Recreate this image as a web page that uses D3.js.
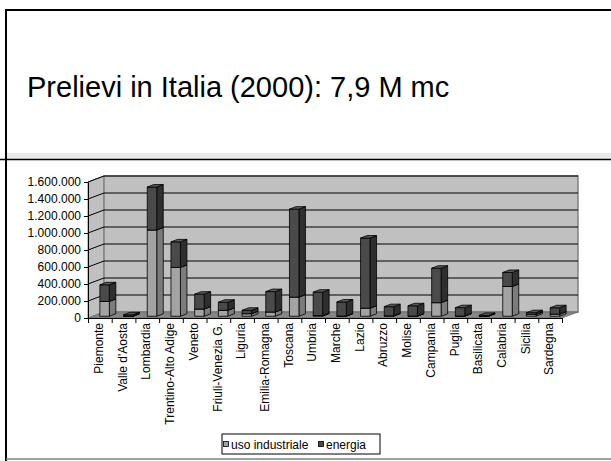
<!DOCTYPE html>
<html>
<head>
<meta charset="utf-8">
<script src="https://cdn.jsdelivr.net/npm/d3@7"></script>
<style>
  html, body { margin: 0; padding: 0; background: #fff; }
  svg { display: block; font-family: "Liberation Sans", Arial, sans-serif; }
</style>
</head>
<body>
<svg id="chart" width="611" height="461"></svg>
<script>
// Regional water withdrawals, Italy 2000 (m³)
const categories = ["Piemonte", "Valle d'Aosta", "Lombardia", "Trentino-Alto Adige", "Veneto",
  "Friuli-Venezia G.", "Liguria", "Emilia-Romagna", "Toscana", "Umbria", "Marche", "Lazio",
  "Abruzzo", "Molise", "Campania", "Puglia", "Basilicata", "Calabria", "Sicilia", "Sardegna"];
const usoIndustriale = [175000, 2000, 1015000, 575000, 85000, 70000, 30000, 50000, 225000, 8000,
  3000, 95000, 5000, 3000, 160000, 3000, 2000, 350000, 20000, 25000];
const energia = [195000, 15000, 505000, 300000, 175000, 95000, 40000, 240000, 1035000, 275000,
  165000, 825000, 108000, 120000, 405000, 98000, 8000, 165000, 22000, 75000];
const seriesNames = ["uso industriale", "energia"];
const yTicks = [0, 200000, 400000, 600000, 800000, 1000000, 1200000, 1400000, 1600000];
const titleText = "Prelievi in Italia (2000): 7,9 M mc";

const svg = d3.select("#chart");

// slide frame
svg.append("line").attr("x1", 6).attr("x2", 611).attr("y1", 10).attr("y2", 10)
  .attr("stroke", "#000").attr("stroke-width", 2);
svg.append("line").attr("x1", 6).attr("x2", 6).attr("y1", 9).attr("y2", 461)
  .attr("stroke", "#000").attr("stroke-width", 2);
svg.append("rect").attr("x", 7).attr("y", 153).attr("width", 604).attr("height", 6)
  .attr("fill", "#e8e8e8");
svg.append("line").attr("x1", 0).attr("x2", 611).attr("y1", 159.5).attr("y2", 159.5)
  .attr("stroke", "#000").attr("stroke-width", 1.5);
svg.append("line").attr("x1", 6).attr("x2", 611).attr("y1", 459).attr("y2", 459)
  .attr("stroke", "#808080").attr("stroke-width", 1.5);

svg.append("text").attr("x", 27).attr("y", 97)
  .attr("font-size", 29).attr("fill", "#000").text(titleText);

// plot geometry (front plane + depth offset)
const plotLeft = 88, plotRight = 562, plotBottom = 318, plotTop = 182;
const DX = 16, DY = -6;

const x = d3.scaleBand().domain(categories).range([plotLeft, plotRight]);
const xEdges = d3.scaleLinear().domain([0, categories.length]).range([plotLeft, plotRight]);
const y = d3.scaleLinear().domain([0, 1600000]).range([plotBottom, plotTop]);

const it = d3.formatLocale({ decimal: ",", thousands: ".", grouping: [3], currency: ["€", ""] });
const fmt = it.format(",");

const wall = svg.append("g");
// side wall
wall.append("polygon")
  .attr("points", [[plotLeft, plotBottom], [plotLeft, plotTop], [plotLeft + DX, plotTop + DY], [plotLeft + DX, plotBottom + DY]].join(" "))
  .attr("fill", "#c0c0c0").attr("stroke", "#808080");
// back wall
wall.append("rect")
  .attr("x", plotLeft + DX).attr("y", plotTop + DY)
  .attr("width", plotRight - plotLeft).attr("height", plotBottom - plotTop)
  .attr("fill", "#c0c0c0").attr("stroke", "#808080").attr("stroke-width", 1.5);
// gridlines on back and side walls
yTicks.filter(d => d > 0).forEach(v => {
  wall.append("line").attr("x1", plotLeft + DX).attr("x2", plotRight + DX)
    .attr("y1", y(v) + DY).attr("y2", y(v) + DY).attr("stroke", "#000").attr("stroke-width", 1);
  wall.append("line").attr("x1", plotLeft).attr("x2", plotLeft + DX)
    .attr("y1", y(v)).attr("y2", y(v) + DY).attr("stroke", "#000").attr("stroke-width", 1);
});
// floor
wall.append("polygon")
  .attr("points", [[plotLeft, plotBottom], [plotRight, plotBottom], [plotRight + DX, plotBottom + DY], [plotLeft + DX, plotBottom + DY]].join(" "))
  .attr("fill", "#868686").attr("stroke", "#6a6a6a").attr("stroke-width", 0.8);

// stacked 3D columns
const stack = d3.stack().keys([0, 1]).value((d, k) => d[k]);
const rows = categories.map((c, i) => [usoIndustriale[i], energia[i]]);
const layers = stack(rows);

const bw = x.bandwidth() * 0.4;
const bdx = 6.5, bdy = -2.5;               // column depth
const ox = (DX - bdx) / 2, oy = (DY - bdy) / 2; // column set at mid depth
const fills = [
  { front: "#a3a3a3", side: "#7c7c7c", top: "#bdbdbd" },
  { front: "#4a4a4a", side: "#2f2f2f", top: "#5a5a5a" }
];

const bars = svg.append("g").attr("stroke", "#000").attr("stroke-width", 0.8).attr("stroke-linejoin", "round");
categories.forEach((c, i) => {
  const x0 = x(c) + x.bandwidth() / 2 - bw / 2 + ox;
  const x1 = x0 + bw;
  layers.forEach((layer, k) => {
    const [v0, v1] = layer[i];
    if (v1 <= v0) return;
    const yb = y(v0) + oy, yt = y(v1) + oy;
    const col = fills[k];
    bars.append("polygon")
      .attr("points", [[x1, yb], [x1 + bdx, yb + bdy], [x1 + bdx, yt + bdy], [x1, yt]].join(" "))
      .attr("fill", col.side);
    bars.append("rect").attr("x", x0).attr("y", yt).attr("width", bw).attr("height", yb - yt)
      .attr("fill", col.front);
    bars.append("polygon")
      .attr("points", [[x0, yt], [x1, yt], [x1 + bdx, yt + bdy], [x0 + bdx, yt + bdy]].join(" "))
      .attr("fill", col.top);
  });
});

// y axis
const yAxis = svg.append("g").attr("transform", `translate(${plotLeft},0)`)
  .call(d3.axisLeft(y).tickValues(yTicks).tickFormat(fmt).tickSize(4).tickSizeOuter(0).tickPadding(3));
yAxis.selectAll("text").attr("font-size", 12).attr("fill", "#000").attr("font-family", "Liberation Sans, Arial, sans-serif");
yAxis.selectAll("line,path").attr("stroke", "#000");

// x axis: boundary ticks + rotated category labels
const xTicks = svg.append("g").attr("transform", `translate(0,${plotBottom})`)
  .call(d3.axisBottom(xEdges).tickValues(d3.range(categories.length + 1)).tickFormat("").tickSize(5).tickSizeOuter(0));
xTicks.selectAll("line,path").attr("stroke", "#000");

const xLabels = svg.append("g").attr("transform", `translate(0,${plotBottom})`)
  .call(d3.axisBottom(x).tickSize(0));
xLabels.select(".domain").remove();
xLabels.selectAll("text")
  .attr("transform", "rotate(-90)")
  .attr("x", -5).attr("y", -1).attr("dy", "0.35em")
  .attr("text-anchor", "end")
  .attr("font-size", 12).attr("fill", "#000")
  .attr("font-family", "Liberation Sans, Arial, sans-serif");

// legend
const lg = svg.append("g");
lg.append("rect").attr("x", 222).attr("y", 434).attr("width", 158).attr("height", 20)
  .attr("fill", "#fff").attr("stroke", "#000").attr("stroke-width", 1);
const legendX = [223, 318];
seriesNames.forEach((name, k) => {
  lg.append("rect").attr("x", legendX[k] + 0.5).attr("y", 441.5).attr("width", 5).attr("height", 5)
    .attr("fill", fills[k].front).attr("stroke", "#000").attr("stroke-width", 0.8);
  lg.append("text").attr("x", legendX[k] + 8).attr("y", 448.5)
    .attr("font-size", 12).attr("fill", "#000").text(name);
});
</script>
</body>
</html>
